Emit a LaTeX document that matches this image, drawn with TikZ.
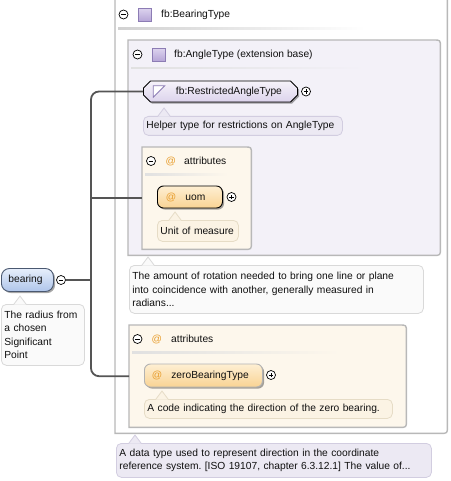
\documentclass[tikz,border=0pt]{standalone}
\usepackage{fontspec}
\setmainfont{Liberation Sans}
\usetikzlibrary{shapes.misc,shadows,calc}
\definecolor{connc}{HTML}{555555}
\definecolor{boxline}{HTML}{B8B8B8}
\definecolor{lavfill}{HTML}{F3F1F8}
\definecolor{creamfill}{HTML}{FDF7EC}
\definecolor{atc}{HTML}{E89E2E}
\definecolor{sqline}{HTML}{8C7CB4}
\definecolor{sqtop}{HTML}{DCD2EE}
\definecolor{sqbot}{HTML}{B4A4D6}
\definecolor{txt}{HTML}{101010}
\definecolor{annlav}{HTML}{ECE9F3}
\definecolor{annlavline}{HTML}{D2CDE0}
\definecolor{anncream}{HTML}{FBF3E4}
\definecolor{anncreamline}{HTML}{E6DCC6}
\definecolor{annwhite}{HTML}{FAFAFA}
\definecolor{annwhiteline}{HTML}{D9D9D9}
\definecolor{bltop}{HTML}{E6EEFB}
\definecolor{blbot}{HTML}{AFC5EA}
\definecolor{blline}{HTML}{4A5870}
\definecolor{ortop}{HTML}{FEEFD3}
\definecolor{orbot}{HTML}{F9D393}
\definecolor{ratop}{HTML}{F6F3FA}
\definecolor{rabot}{HTML}{DCD3EC}
\newcommand\rbox[3]{\draw[fill=#2,draw=#3,line width=1.4pt] let \p1=(#1.north west), \p2=(#1.south east) in (\x1,\y1) -- (\x2-7pt,\y1) .. controls (\x2,\y1) .. (\x2,\y1-7pt) -- (\x2,\y2+7pt) .. controls (\x2,\y2) .. (\x2-7pt,\y2) -- (\x1,\y2) -- cycle;}
\newcommand\ptr[4]{%
 \fill[#3] let \p1=(#1.north) in (#2pt-6pt,\y1-0.7pt) -- (#2pt,\y1+8pt) -- (#2pt+6pt,\y1-0.7pt) -- cycle;
 \draw[#4, line width=0.8pt] let \p1=(#1.north) in (#2pt-6pt,\y1) -- (#2pt,\y1+8pt) -- (#2pt+6pt,\y1);}
\begin{document}
\frenchspacing
\begin{tikzpicture}[x=1pt,y=-1pt,
  font=\fontsize{10.25}{13.5}\selectfont, text=txt,
  conn/.style={draw=connc, line width=1.8pt},
  boxnode/.style={draw=none, inner sep=0pt, anchor=north west},
  btn/.style={circle, draw=black, line width=0.7pt, fill=white, inner sep=0pt, minimum size=9pt},
  minusbtn/.style={btn, path picture={\draw[line width=0.7pt] (path picture bounding box.center) ++(-2.4pt,0pt) -- ++(4.8pt,0pt);}},
  plusbtn/.style={btn, path picture={\draw[line width=0.7pt] (path picture bounding box.center) ++(-2.4pt,0pt) -- ++(4.8pt,0pt) (path picture bounding box.center) ++(0pt,-2.4pt) -- ++(0pt,4.8pt);}},
  typesq/.style={draw=sqline, line width=0.8pt, minimum size=13pt, inner sep=0pt, top color=sqtop, bottom color=sqbot},
  shad/.style={drop shadow={shadow xshift=1.6pt, shadow yshift=-1.6pt, opacity=0.35, fill=black}},
  elem/.style={inner xsep=4pt, inner ysep=0pt, align=left, anchor=west, line width=0.9pt, shad},
  ann/.style={rounded corners=5pt, inner xsep=3pt, inner ysep=2.5pt, align=left, anchor=north west, line width=0.8pt},
  hdr/.style={anchor=west, inner sep=0pt},
  atsign/.style={anchor=west, inner sep=0pt, text=atc}
]
\useasboundingbox (0,0) rectangle (450,481);
% containers
\node[boxnode, minimum width=332pt, minimum height=443pt] (outer) at (115,-10) {};
\rbox{outer}{white}{boxline}
\shade[left color=black!18, right color=white] (118,28) rectangle (365,30);
\node[minusbtn] (m0) at (123.5,14.5) {};
\node[typesq] (sq0) at (145,15) {};
\node[hdr] (t0) at (161,14.5) {fb:BearingType};

\node[boxnode, minimum width=312pt, minimum height=215pt] (angle) at (128,40) {};
\rbox{angle}{lavfill}{boxline}
\shade[left color=black!12, right color=lavfill] (131,67.5) rectangle (365,69);
\node[minusbtn] (m1) at (137.5,54.5) {};
\node[typesq] (sq1) at (159,55) {};
\node[hdr] (t1) at (174,54.5) {fb:AngleType (extension base)};

% restricted angle type
\node[elem, chamfered rectangle, chamfered rectangle xsep=3.5pt, chamfered rectangle ysep=3.5pt, draw=black, top color=ratop, bottom color=rabot, minimum height=21pt, text width=139pt] (rat) at (143,91.5) {\hspace*{25pt}fb:RestrictedAngleType};
\node[draw=none, minimum size=11pt, inner sep=0pt] (raticon) at (159,91.5) {};
\draw[sqline, fill=white, line width=0.8pt] (raticon.south west) -- (raticon.north west) -- (raticon.north east) -- cycle;
\node[plusbtn] (p1) at (306,91.5) {};
\node[ann, fill=annlav, draw=annlavline, text width=193pt, minimum height=19pt] (helper) at (143,116) {\mbox{Helper type for restrictions on AngleType}};
\ptr{helper}{164}{annlav}{annlavline}

% attributes 1
\node[boxnode, minimum width=109pt, minimum height=102pt] (attr1) at (142,147) {};
\rbox{attr1}{creamfill}{boxline}
\shade[left color=black!12, right color=creamfill] (145,173.5) rectangle (228,175);
\node[minusbtn] (m2) at (151,161) {};
\node[atsign] (at1) at (165.5,161) {@};
\node[hdr] (t2) at (184,161) {attributes};
\node[elem, rounded corners=6pt, draw=black, top color=ortop, bottom color=orbot, minimum height=22pt, text width=57pt] (uom) at (157,197) {\hspace*{4.5pt}\textcolor{atc}{@}\hspace{9pt}uom};
\node[plusbtn] (p2) at (231.5,197) {};
\node[ann, fill=anncream, draw=anncreamline, text width=75pt, minimum height=21pt] (unit) at (157,220) {\mbox{Unit of measure}};
\ptr{unit}{175}{anncream}{anncreamline}

\node[ann, fill=annwhite, draw=annwhiteline, text width=288pt, minimum height=48pt] (amount) at (129,265) {The amount of rotation needed to bring one line or plane\\into coincidence with another, generally measured in\\radians...};
\ptr{amount}{148}{annwhite}{annwhiteline}

% attributes 2
\node[boxnode, minimum width=277pt, minimum height=102pt] (attr2) at (129,325) {};
\rbox{attr2}{creamfill}{boxline}
\shade[left color=black!12, right color=creamfill] (132,351.5) rectangle (340,353);
\node[minusbtn] (m3) at (137.5,339) {};
\node[atsign] (at2) at (151.5,339) {@};
\node[hdr] (t3) at (171,339) {attributes};
\node[elem, rounded corners=6pt, draw=black!30, top color=ortop, bottom color=orbot, minimum height=23pt, text width=110pt] (zero) at (144,375.5) {\hspace*{3.5pt}\textcolor{atc}{@}\hspace{9pt}zeroBearingType};
\node[plusbtn] (p3) at (271,375) {};
\node[ann, fill=anncream, draw=anncreamline, text width=242pt, minimum height=19pt] (code) at (144,399) {\mbox{A code indicating the direction of the zero bearing.}};
\ptr{code}{162}{anncream}{anncreamline}

\node[ann, fill=annlav, draw=annlavline, text width=309pt, minimum height=34pt] (bottom) at (116,443) {A data type used to represent direction in the coordinate\\reference system. [ISO 19107, chapter 6.3.12.1] The value of...};
\ptr{bottom}{135}{annlav}{annlavline}

% bearing
\node[elem, rounded corners=8pt, draw=blline, top color=bltop, bottom color=blbot, minimum height=23pt, text width=44pt] (bearing) at (1,280) {\hspace*{3pt}bearing};
\node[minusbtn] (bm) at (61,280) {};
\node[ann, fill=annwhite, draw=annwhiteline, text width=77pt, minimum height=61pt] (bann) at (1,304) {The radius from\\a chosen\\Significant\\Point};
\ptr{bann}{20}{annwhite}{annwhiteline}

% connectors
\coordinate (tr) at (91,280);
\draw[conn] (bm.east) -- (tr);
\draw[conn, rounded corners=8pt] (tr) |- (rat.west);
\draw[conn] (tr |- attr1.west) -- (attr1.west);
\draw[conn, rounded corners=8pt] (tr) |- (attr2.west);
\end{tikzpicture}
\end{document}
